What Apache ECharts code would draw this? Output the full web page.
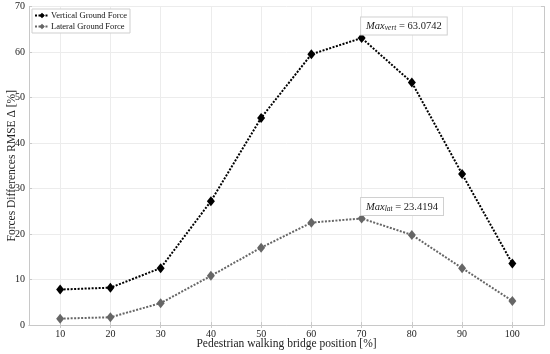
<!DOCTYPE html>
<html>
<head>
<meta charset="utf-8">
<script src="https://cdn.jsdelivr.net/npm/echarts@6/dist/echarts.min.js"></script>
<style>html,body{margin:0;padding:0;background:#fff}#c{width:550px;height:354px}</style>
</head>
<body>
<div id="c"></div>
<script>
const positions = [10, 20, 30, 40, 50, 60, 70, 80, 90, 100];
const verticalForce = [7.8, 8.2, 12.5, 27.2, 45.5, 59.5, 63.0742, 53.3, 33.2, 13.5];
const lateralForce = [1.4, 1.7, 4.8, 10.8, 17.0, 22.5, 23.4194, 19.8, 12.5, 5.3];
const yTicks = [0, 10, 20, 30, 40, 50, 60, 70];
const xTicks = [10, 20, 30, 40, 50, 60, 70, 80, 90, 100];
const seriesNames = ['Vertical Ground Force', 'Lateral Ground Force'];
const maxVertLabel = '63.0742';
const maxLatLabel = '23.4194';

const FONT = '"Liberation Serif", "DejaVu Serif", serif';
const chart = echarts.init(document.getElementById('c'), null, {renderer: 'canvas'});

function pairs(vals) { return positions.map((p, i) => [p, vals[i]]); }

function maxPoint(vals, sub, txt) {
  let mi = 0;
  vals.forEach((v, i) => { if (v > vals[mi]) mi = i; });
  return {
    symbol: 'circle', symbolSize: 1,
    itemStyle: {color: 'rgba(0,0,0,0)'},
    label: {
      show: true, position: [0, -3], align: 'left', verticalAlign: 'bottom',
      backgroundColor: '#fff', borderColor: '#d0d0d0', borderWidth: 1,
      padding: [3, 5, 2, 5],
      formatter: '{m|Max}{s|' + sub + '}{n| = ' + txt + '}',
      rich: {
        m: {fontFamily: FONT, fontStyle: 'italic', fontSize: 10.5, color: '#222'},
        s: {fontFamily: FONT, fontStyle: 'italic', fontSize: 7.5, color: '#222', verticalAlign: 'bottom', padding: [4, 0, 0, 0]},
        n: {fontFamily: FONT, fontSize: 10.5, color: '#222'}
      }
    },
    data: [{coord: [positions[mi], vals[mi]]}]
  };
}

const axisLine = {show: true, lineStyle: {color: '#c8c8c8', width: 1}};
const splitLine = {show: true, lineStyle: {color: '#ececec', width: 1}};

const option = {
  animation: false,
  backgroundColor: '#fff',
  grid: {left: 29, right: 6, top: 6.5, bottom: 29, containLabel: false, outerBoundsMode: 'none'},
  legend: {
    left: 32, top: 9, orient: 'vertical',
    itemWidth: 14, itemHeight: 7, itemGap: 2,
    padding: [2, 3, 2, 2],
    backgroundColor: '#fff', borderColor: '#cfcfcf', borderWidth: 1,
    textStyle: {fontFamily: FONT, fontSize: 8.5, color: '#111', padding: [0, 0, 0, -3]},
    data: seriesNames
  },
  xAxis: [{
    type: 'value', min: 3.8, max: 106.3,
    name: 'Pedestrian walking bridge position [%]', nameLocation: 'middle', nameGap: 12.5,
    nameMoveOverlap: false,
    nameTextStyle: {fontFamily: FONT, fontSize: 11.5, color: '#222'},
    axisLine: axisLine,
    axisTick: {show: true, inside: true, length: 3, customValues: xTicks, lineStyle: {color: '#c8c8c8'}},
    axisLabel: {customValues: xTicks, fontFamily: FONT, fontSize: 10, color: '#222', margin: 4},
    splitLine: splitLine
  }, {
    type: 'value', min: 3.8, max: 106.3, position: 'top',
    axisLine: axisLine,
    axisTick: {show: true, inside: true, length: 3, customValues: xTicks, lineStyle: {color: '#c8c8c8'}},
    axisLabel: {show: false}, splitLine: {show: false}
  }],
  yAxis: [{
    type: 'value', min: 0, max: 70, interval: 10,
    name: 'Forces Differences RMSE \u0394 [%]', nameLocation: 'middle', nameGap: 11,
    nameMoveOverlap: false,
    nameTextStyle: {fontFamily: FONT, fontSize: 11.5, color: '#222'},
    axisLine: axisLine,
    axisTick: {show: true, inside: true, length: 3, lineStyle: {color: '#c8c8c8'}},
    axisLabel: {fontFamily: FONT, fontSize: 10, color: '#222', margin: 4},
    splitLine: splitLine
  }, {
    type: 'value', min: 0, max: 70, interval: 10, position: 'right',
    axisLine: axisLine,
    axisTick: {show: true, inside: true, length: 3, lineStyle: {color: '#c8c8c8'}},
    axisLabel: {show: false}, splitLine: {show: false}
  }],
  series: [{
    name: seriesNames[0], type: 'line', data: pairs(verticalForce),
    symbol: 'diamond', symbolSize: [8, 10],
    itemStyle: {color: '#000'},
    lineStyle: {color: '#000', width: 2, type: [2, 1.5]},
    markPoint: maxPoint(verticalForce, 'vert', maxVertLabel),
    z: 3
  }, {
    name: seriesNames[1], type: 'line', data: pairs(lateralForce),
    symbol: 'diamond', symbolSize: [8, 10],
    itemStyle: {color: '#666'},
    lineStyle: {color: '#666', width: 2, type: [2, 1.5]},
    markPoint: maxPoint(lateralForce, 'lat', maxLatLabel),
    z: 2
  }]
};
chart.setOption(option);
</script>
</body>
</html>
